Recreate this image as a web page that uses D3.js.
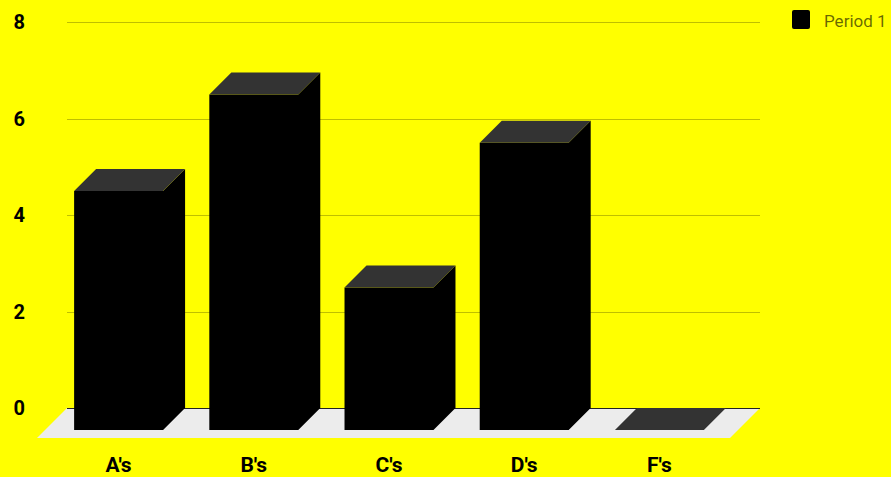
<!DOCTYPE html>
<html>
<head>
<meta charset="utf-8">
<script src="https://cdn.jsdelivr.net/npm/d3@7"></script>
<style>
  html, body { margin: 0; padding: 0; background: #ffff00; }
  svg { display: block; font-family: Roboto, "Noto Sans", sans-serif; }
</style>
</head>
<body>
<svg id="chart" width="891" height="477"></svg>
<script>
// Grades per category for one period
const categories = ["A's", "B's", "C's", "D's", "F's"];
const period1 = [4.5, 6.5, 2.5, 5.5, 0];
const yTicks = [0, 2, 4, 6, 8];
const seriesName = "Period 1";

const W = 891, H = 477;
const svg = d3.select("#chart");

// back wall extent
const wallLeft = 67, wallRight = 760;
const barDepth = 22;   // oblique offset of the bar slabs
const floorDepth = 30; // oblique offset of the floor

const y = d3.scaleLinear().domain([0, 8]).range([408, 22]);
const x = d3.scaleBand()
  .domain(categories)
  .range([51, 727])
  .paddingInner(0.342)
  .paddingOuter(0.171);

svg.append("rect").attr("width", W).attr("height", H).attr("fill", "#ffff00");

// gridlines on the back wall
svg.append("g")
  .selectAll("line")
  .data(yTicks.filter(d => d !== 0))
  .join("line")
  .attr("x1", wallLeft).attr("x2", wallRight)
  .attr("y1", d => Math.round(y(d)) + 0.5).attr("y2", d => Math.round(y(d)) + 0.5)
  .attr("stroke", "rgba(0,0,0,0.25)")
  .attr("stroke-width", 1);

// floor
const y0 = y(0);
svg.append("path")
  .attr("d", `M${wallLeft},${y0} L${wallRight},${y0} L${wallRight - floorDepth},${y0 + floorDepth} L${wallLeft - floorDepth},${y0 + floorDepth} Z`)
  .attr("fill", "#ececec");

// zero line
svg.append("line")
  .attr("x1", wallLeft).attr("x2", wallRight)
  .attr("y1", Math.round(y0) + 0.5).attr("y2", Math.round(y0) + 0.5)
  .attr("stroke", "#222")
  .attr("stroke-width", 1);

// y axis labels
svg.append("g")
  .selectAll("text")
  .data(yTicks)
  .join("text")
  .attr("x", 25)
  .attr("y", d => y(d))
  .attr("dy", "0.36em")
  .attr("text-anchor", "end")
  .attr("font-size", 20)
  .attr("font-weight", 700)
  .attr("fill", "#000")
  .text(d => d);

// 3D bars
const base = y0 + barDepth;
const bars = svg.append("g")
  .selectAll("g")
  .data(categories.map((c, i) => ({ c, v: period1[i] })))
  .join("g");

bars.each(function (d) {
  const g = d3.select(this);
  const x0 = x(d.c), w = x.bandwidth();
  const h = d.v === 0 ? 0 : (y0 - y(d.v)) + barDepth;
  const top = base - h;
  if (h > 0) {
    // front and right side faces as one outline
    g.append("path")
      .attr("d", `M${x0},${top} L${x0 + w},${top} L${x0 + w + barDepth},${top - barDepth} L${x0 + w + barDepth},${base - barDepth} L${x0 + w},${base} L${x0},${base} Z`)
      .attr("fill", "#000");
  }
  // top face
  g.append("path")
    .attr("d", `M${x0},${top} L${x0 + barDepth},${top - barDepth} L${x0 + w + barDepth},${top - barDepth} L${x0 + w},${top} Z`)
    .attr("fill", "#333");
});

// x axis labels
svg.append("g")
  .selectAll("text")
  .data(categories)
  .join("text")
  .attr("x", d => x(d) + x.bandwidth() / 2)
  .attr("y", 471.5)
  .attr("text-anchor", "middle")
  .attr("font-size", 21)
  .attr("font-weight", 700)
  .attr("fill", "#000")
  .text(d => d);

// legend
const legend = svg.append("g");
legend.append("rect")
  .attr("x", 792).attr("y", 10)
  .attr("width", 18).attr("height", 19)
  .attr("rx", 2)
  .attr("fill", "#000");
legend.append("text")
  .attr("x", 824).attr("y", 27)
  .attr("font-size", 17)
  .attr("fill", "rgba(0,0,0,0.6)")
  .text(seriesName);
</script>
</body>
</html>
